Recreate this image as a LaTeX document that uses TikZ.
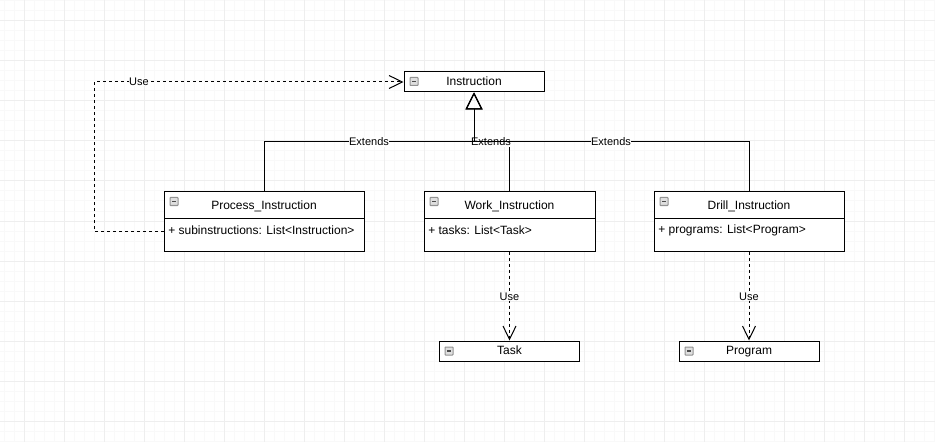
\documentclass[tikz,border=0pt]{standalone}
\usepackage{fontspec}
\setmainfont{Liberation Sans}
\usetikzlibrary{arrows.meta}
\tikzset{
  box/.style={draw=black, line width=0.75pt, fill=white, inner sep=0pt, text height=6.5pt, text depth=1.8pt, font=\fontsize{9pt}{10pt}\selectfont},
  head/.style={box, minimum height=19.5pt, text depth=0.4pt},
  attr/.style={anchor=west, inner sep=0pt, font=\fontsize{9pt}{10pt}\selectfont},
  lbl/.style={fill=white, inner sep=0.4pt, font=\fontsize{8.25pt}{9pt}\selectfont},
  ext/.style={draw=black, line width=0.75pt, -{Triangle[open, length=12.75pt, width=12.75pt, line width=0.75pt]}},
  use/.style={draw=black, line width=0.75pt, dash pattern=on 2.25pt off 2.25pt, -{Straight Barb[length=10pt, width=9.75pt, line width=0.75pt]}},
  icon/.style={draw=gray!85, fill=gray!25, line width=0.75pt, rounded corners=0.5pt},
  iconbar/.style={draw=gray!60!black, line width=0.9pt},
  minor/.style={draw=gray!5, line width=0.75pt},
  major/.style={draw=gray!13, line width=0.75pt}
}
\newcommand{\boxicon}[2]{%
  \draw[icon] (#1,#2) rectangle ++(8,8);
  \draw[iconbar] (#1+2.2,#2+4) -- ++(3.6,0);}
\begin{document}
\begin{tikzpicture}[x=0.75pt,y=-0.75pt]
\useasboundingbox (0,0) rectangle (935,442);
\fill[white] (0,0) rectangle (935,442);
% grid
\foreach \gx in {4,14,...,934} \draw[minor] (\gx,0) -- (\gx,442);
\foreach \gy in {1,11,...,441} \draw[minor] (0,\gy) -- (935,\gy);
\foreach \gx in {24,64,...,934} \draw[major] (\gx,0) -- (\gx,442);
\foreach \gy in {21,61,...,441} \draw[major] (0,\gy) -- (935,\gy);

% classes
\node[box, minimum width=105pt, minimum height=15pt] (ins) at (474,82) {Instruction};
\boxicon{410}{77.5}

\node[head, minimum width=150pt] (ph) at (264,205) {Process\_Instruction};
\node[box, minimum width=150pt, minimum height=24.75pt] (pb) at (264,234.5) {};
\node[attr] (pat) at (168,230.5) {+ subinstructions: List<Instruction>};
\boxicon{170}{197.5}

\node[head, minimum width=128.25pt] (wh) at (509.5,205) {Work\_Instruction};
\node[box, minimum width=128.25pt, minimum height=24.75pt] (wb) at (509.5,234.5) {};
\node[attr] (wat) at (428,230.5) {+ tasks: List<Task>};
\boxicon{430}{197.5}

\node[head, minimum width=142.5pt] (dh) at (749,205) {Drill\_Instruction};
\node[box, minimum width=142.5pt, minimum height=24.75pt] (db) at (749,234.5) {};
\node[attr] (dat) at (658,230.5) {+ programs: List<Program>};
\boxicon{660}{197.5}

\node[box, minimum width=105pt, minimum height=15pt] (task) at (509.5,351) {Task};
\boxicon{445}{347}
\node[box, minimum width=105pt, minimum height=15pt] (prog) at (749,351) {Program};
\boxicon{685}{347}

% inheritance
\draw[ext] (wh.north) -- ++(0,-50) -| (ins.south);
\node[lbl] (l2) at (491,142) {Extends};
\draw[ext] (ph.north) -- ++(0,-50) -| (ins.south);
\node[lbl] (l1) at (369,142) {Extends};
\draw[ext] (dh.north) -- ++(0,-50) -| (ins.south);
\node[lbl] (l3) at (611,142) {Extends};

% use
\coordinate (pa) at (164,231);
\draw[use] (pa) -- (94,231) |- (ins.west);
\node[lbl] (u1) at (139,82) {Use};
\draw[use] (wb.south) -- (task.north);
\node[lbl] (u2) at (509.5,297) {Use};
\draw[use] (db.south) -- (prog.north);
\node[lbl] (u3) at (749,297) {Use};
\end{tikzpicture}
\end{document}
